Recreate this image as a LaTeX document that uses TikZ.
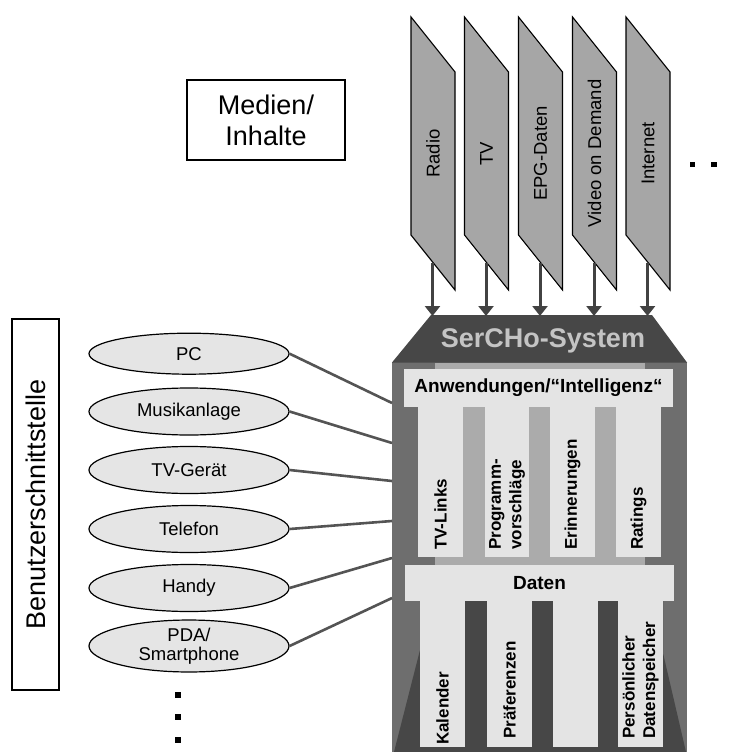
\documentclass[tikz,border=0pt]{standalone}
\usepackage{fontspec}
\setmainfont{Liberation Sans}
\usetikzlibrary{arrows.meta,shapes.geometric}

\definecolor{mediagray}{gray}{0.65}
\definecolor{arrowgray}{gray}{0.26}
\definecolor{roofgray}{gray}{0.28}
\definecolor{bodymid}{gray}{0.43}
\definecolor{innerlight}{gray}{0.67}
\definecolor{barlight}{gray}{0.895}
\definecolor{sertext}{gray}{0.77}
\definecolor{linkgray}{gray}{0.33}
\definecolor{devfill}{gray}{0.9}

\begin{document}
\begin{tikzpicture}[x=1pt,y=-1pt,
  media/.style={rotate=90, inner sep=0pt, font=\fontsize{18.5}{22}\selectfont},
  mediashape/.style={draw=black, line width=1.1pt, fill=mediagray},
  feed/.style={draw=arrowgray, line width=3pt, -{Triangle[width=15pt,length=10pt]}},
  device/.style={ellipse, draw=black, line width=1.2pt, fill=devfill,
    minimum width=200pt, minimum height=47pt, inner sep=0pt, align=center,
    font=\fontsize{18.5}{19.5}\selectfont},
  link/.style={draw=linkgray, line width=2.6pt},
  labelbox/.style={draw=black, line width=1.4pt, fill=white, inner sep=0pt,
    align=center, font=\fontsize{27}{31}\selectfont},
  bartext/.style={inner sep=0pt, font=\bfseries\fontsize{19}{22}\selectfont},
  pillartext/.style={rotate=90, anchor=west, inner sep=0pt, align=left,
    font=\bfseries\fontsize{17}{20.5}\selectfont},
  dotmark/.style={fill=black, inner sep=0pt, minimum size=5.5pt}]

\useasboundingbox (0,0) rectangle (733,752);

% ---------- media sources ----------
\foreach \L/\name/\txt in {411/radio/Radio, 464.5/tv/TV, 518.5/epg/EPG-Daten,
                           572.5/vod/Video on Demand, 626/inet/Internet}{
  \path[mediashape] (\L,17) -- (\L+44,72) -- (\L+44,290) -- (\L,235) -- cycle;
  \node[media] (\name) at (\L+22,153.5) {\txt};
  \coordinate (\name-out) at (\L+21.5,262.5);
  \coordinate (\name-in) at (\L+21.5,316);
}
\node[dotmark] (more1) at (692.5,164.5) {};
\node[dotmark] (more2) at (714,164.5) {};

\node[labelbox, minimum width=158pt, minimum height=80pt] (medien) at (266,120)
  {Medien/\\Inhalte};

% ---------- SerCHo system ----------
\node[fill=bodymid, inner sep=0pt, minimum width=295pt, minimum height=390pt,
      anchor=north west] (body) at (392,362) {};
\fill[roofgray] (431,315) -- (652,315) -- (687,362.5) -- (392,362.5) -- cycle;
\node[font=\bfseries\fontsize{27}{30}\selectfont, text=sertext, inner sep=0pt]
  (sercho) at (543,341) {SerCHo-System};

% applications layer
\fill[innerlight] (435,362.5) rectangle (645,565);
\fill[barlight] (404,369) rectangle (673,407);
\node[bartext] (apps) at (538.5,388) {Anwendungen/“Intelligenz“};
\foreach \a/\b in {418/463, 485/529, 550/595, 616/661}
  \fill[barlight] (\a,406) rectangle (\b,557);
\node[pillartext] (tvlinks) at (440.5,550) {TV-Links};
\node[pillartext] (prog) at (507,550) {Programm-\\vorschläge};
\node[pillartext] (erin) at (572.5,550) {Erinnerungen};
\node[pillartext] (ratings) at (638.5,550) {Ratings};

% data layer
\fill[roofgray] (420,600) -- (663,600) -- (663,653) -- (686,752) -- (394,752)
  -- (420,650) -- cycle;
\fill[barlight] (405,565) rectangle (674,601);
\node[bartext] (daten) at (539.5,583) {Daten};
\foreach \a/\b in {420/465, 487/532, 553/598, 618/663}
  \fill[barlight] (\a,600) rectangle (\b,747);
\node[pillartext] (kal) at (442.5,745) {Kalender};
\node[pillartext] (pref) at (509.5,739) {Präferenzen};
\node[pillartext] (store) at (640.5,739) {Persönlicher\\Datenspeicher};

% feeds into the system
\foreach \name in {radio, tv, epg, vod, inet}
  \draw[feed] (\name-out) -- (\name-in);

% ---------- user interface ----------
\node[labelbox, rotate=90, minimum width=371pt, minimum height=47pt] (ui)
  at (35.5,504.5) {Benutzerschnittstelle};

\node[device, minimum height=41pt] (pc) at (189,353.7) {PC};
\node[device] (musik) at (189,411.5) {Musikanlage};
\node[device] (tvg) at (189,470) {TV-Gerät};
\node[device] (tel) at (189,529) {Telefon};
\node[device] (handy) at (189,588) {Handy};
\node[device] (pda) at (189,646) {PDA/\\Smartphone};

\coordinate (j1) at (392,403);
\coordinate (j2) at (392,443);
\coordinate (j3) at (392,481);
\coordinate (j4) at (392,521);
\coordinate (j5) at (392,558);
\coordinate (j6) at (392,598);
\draw[link] (pc.east) -- (j1);
\draw[link] (musik.east) -- (j2);
\draw[link] (tvg.east) -- (j3);
\draw[link] (tel.east) -- (j4);
\draw[link] (handy.east) -- (j5);
\draw[link] (pda.east) -- (j6);

\node[dotmark, minimum size=6pt] (dev1) at (177.7,694.7) {};
\node[dotmark, minimum size=6pt] (dev2) at (177.7,717.4) {};
\node[dotmark, minimum size=6pt] (dev3) at (177.7,739.7) {};
\end{tikzpicture}
\end{document}
